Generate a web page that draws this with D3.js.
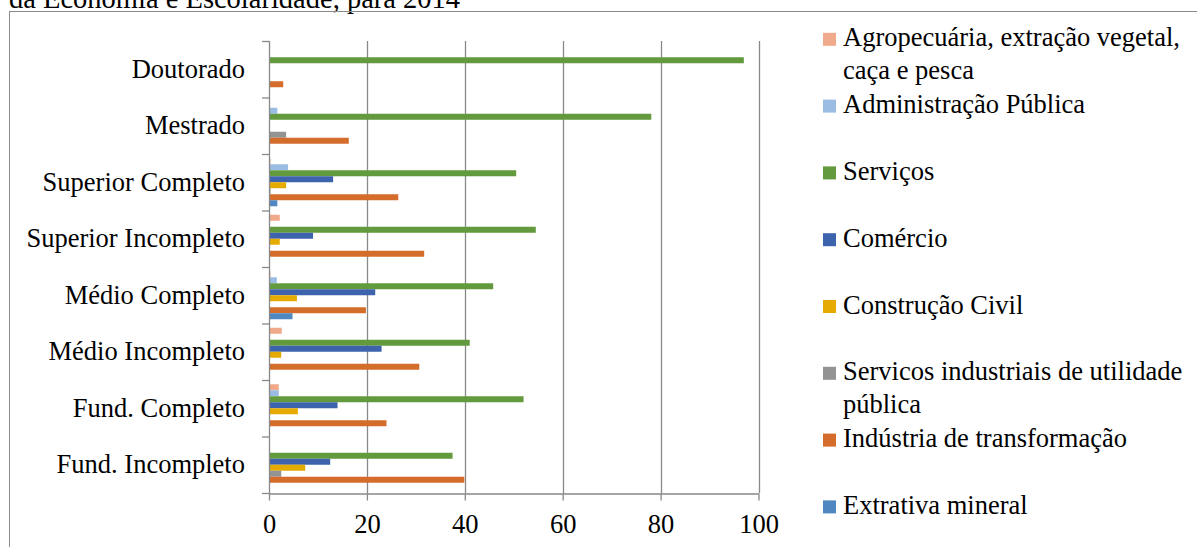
<!DOCTYPE html>
<html>
<head>
<meta charset="utf-8">
<script src="https://cdn.jsdelivr.net/npm/d3@7"></script>
<style>
  html, body { margin: 0; padding: 0; background: #fff; }
  svg text { font-family: "Liberation Serif", "Times New Roman", serif !important; }
</style>
</head>
<body>
<svg id="chart" width="1197" height="547"></svg>
<script>
// ---- data ----
const categories = ["Doutorado", "Mestrado", "Superior Completo", "Superior Incompleto",
  "Médio Completo", "Médio Incompleto", "Fund. Completo", "Fund. Incompleto"];

const seriesNames = [
  "Agropecuária, extração vegetal, caça e pesca",
  "Administração Pública",
  "Serviços",
  "Comércio",
  "Construção Civil",
  "Servicos industriais de utilidade pública",
  "Indústria de transformação",
  "Extrativa mineral"
];
const legendLines = [
  ["Agropecuária, extração vegetal,", "caça e pesca"],
  ["Administração Pública"],
  ["Serviços"],
  ["Comércio"],
  ["Construção Civil"],
  ["Servicos industriais de utilidade", "pública"],
  ["Indústria de transformação"],
  ["Extrativa mineral"]
];
const seriesColors = ["#F1A98B", "#9BBCE3", "#639A3E", "#3D63AD", "#E5AB00", "#939393", "#D46C2B", "#4F87C0"];

const agropecuaria   = [0,    0,    0.3,  2.2,  0.3,  2.6,  2.0,  0];
const administracao  = [0,    1.7,  3.9,  0,    1.6,  0,    2.0,  0];
const servicos       = [97.0, 78.1, 50.5, 54.5, 45.8, 41.0, 52.0, 37.5];
const comercio       = [0,    0,    13.1, 9.0,  21.7, 23.0, 14.0, 12.5];
const construcao     = [0,    0,    3.5,  2.2,  5.7,  2.5,  5.9,  7.4];
const servIndustriais= [0,    3.5,  0.3,  0,    0,    0,    0,    2.5];
const industria      = [2.9,  16.3, 26.4, 31.7, 19.8, 30.7, 24.0, 39.9];
const extrativa      = [0,    0,    1.7,  0,    4.8,  0,    0,    0];

const xTicks = [0, 20, 40, 60, 80, 100];
const titleText = "da Economia e Escolaridade, para 2014";

const seriesValues = [agropecuaria, administracao, servicos, comercio, construcao, servIndustriais, industria, extrativa];

// ---- layout ----
const svg = d3.select("#chart");
const plot = { left: 269, right: 758.5, top: 41, bottom: 493 };
const axisColor = "#898989";
const font = 26.5;
const serif = "'Liberation Serif', 'Times New Roman', serif";

// title (cut off at top, as in the source)
svg.append("text").attr("x", 9).attr("y", 8)
  .style("font-family", serif)
  .attr("font-size", 28.5).attr("fill", "#000").text(titleText);

// chart border
svg.append("rect").attr("x", 9.5).attr("y", 11.5).attr("width", 1300).attr("height", 600)
  .attr("fill", "none").attr("stroke", axisColor).attr("stroke-width", 1);

const x = d3.scaleLinear().domain([0, 100]).range([plot.left, plot.right]);
const y = d3.scaleBand().domain(categories).range([plot.top, plot.bottom]).padding(0);
const yInner = d3.scaleBand().domain(d3.range(seriesNames.length))
  .range([0, y.bandwidth()]).paddingInner(0).paddingOuter(0.71);

// gridlines
svg.append("g").selectAll("line").data(xTicks.filter(d => d > 0)).join("line")
  .attr("x1", d => Math.round(x(d)) + 0.5).attr("x2", d => Math.round(x(d)) + 0.5)
  .attr("y1", plot.top).attr("y2", plot.bottom)
  .attr("stroke", axisColor).attr("stroke-width", 1.3);

// bars
const groups = svg.append("g").selectAll("g").data(seriesNames).join("g")
  .attr("fill", (d, i) => seriesColors[i]);
groups.each(function(name, si) {
  d3.select(this).selectAll("rect").data(categories).join("rect")
    .attr("x", x(0))
    .attr("y", (c) => y(c) + yInner(si))
    .attr("height", yInner.bandwidth())
    .attr("width", (c, ci) => x(seriesValues[si][ci]) - x(0));
});

// x axis
const xAxis = d3.axisBottom(x).tickValues(xTicks).tickSize(7).tickSizeOuter(0).tickFormat(d3.format("d"));
const gx = svg.append("g").attr("transform", `translate(0,${plot.bottom + 0.5})`).call(xAxis);
gx.attr("font-family", null).attr("font-size", null);
gx.select(".domain").attr("stroke", axisColor).attr("stroke-width", 1.3);
gx.selectAll(".tick line").attr("stroke", axisColor).attr("stroke-width", 1.3);
gx.selectAll(".tick text").attr("font-size", font).style("font-family", serif)
  .attr("fill", "#000").attr("dy", null).attr("y", 39);

// y axis line + ticks at category boundaries
const yAxisG = svg.append("g");
yAxisG.append("line").attr("x1", plot.left + 0.5).attr("x2", plot.left + 0.5)
  .attr("y1", plot.top).attr("y2", plot.bottom + 0.5)
  .attr("stroke", axisColor).attr("stroke-width", 1.3);
const boundaries = categories.map(c => y(c)).concat([plot.bottom]);
yAxisG.selectAll("line.tk").data(boundaries).join("line").attr("class", "tk")
  .attr("x1", plot.left - 7).attr("x2", plot.left + 0.5)
  .attr("y1", d => d + 0.5).attr("y2", d => d + 0.5)
  .attr("stroke", axisColor).attr("stroke-width", 1.3);
yAxisG.selectAll("text").data(categories).join("text")
  .attr("x", 245).attr("y", c => y(c) + y.bandwidth() / 2 + 8.5)
  .attr("text-anchor", "end").attr("font-size", font).attr("fill", "#000")
  .style("font-family", serif)
  .text(c => c);

// legend
const legend = svg.append("g");
const legStart = 39.3, legStep = 66.8;
legendLines.forEach((lines, i) => {
  const cy = legStart + i * legStep;
  legend.append("rect").attr("x", 823).attr("y", cy - 6.5).attr("width", 13).attr("height", 13)
    .attr("fill", seriesColors[i]);
  const t = legend.append("text").attr("x", 843).attr("y", cy + 7)
    .attr("font-size", font).attr("fill", "#000").style("font-family", serif);
  lines.forEach((ln, li) => {
    t.append("tspan").attr("x", 843).attr("y", cy + 7 + li * 32.3)
      .style("font-family", serif).text(ln);
  });
});
</script>
</body>
</html>
